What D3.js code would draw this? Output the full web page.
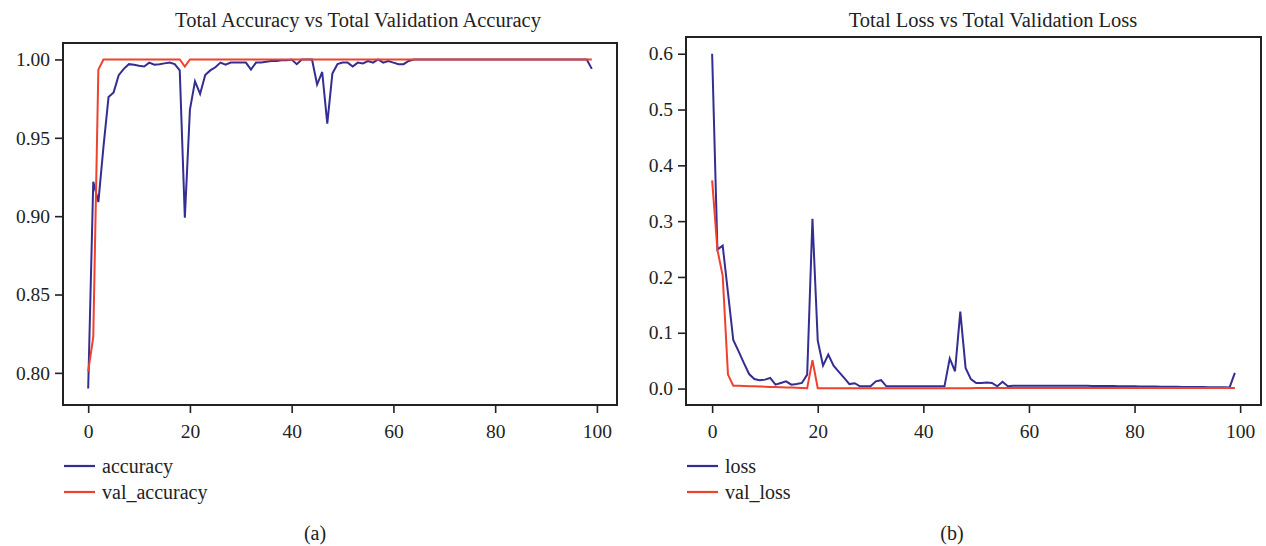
<!DOCTYPE html>
<html>
<head>
  <meta charset="utf-8">
  <title>Accuracy and Loss</title>
  <script src="https://d3js.org/d3.v7.min.js"></script>
  <style>
    body { margin: 0; background: #fff; }
    text { font-family: "Liberation Serif", "Times New Roman", serif; fill: #222; }
  </style>
</head>
<body>
  <div id="chart"></div>

  <script>
    // values, epoch 0..99
    var accuracy = [
      0.790, 0.922, 0.909, 0.944, 0.976, 0.979, 0.990, 0.994, 0.997, 0.9966,
      0.996, 0.9955, 0.998, 0.9966, 0.997, 0.9975, 0.998, 0.997, 0.993, 0.899,
      0.968, 0.986, 0.978, 0.990, 0.993, 0.995, 0.998, 0.9966, 0.998, 0.998,
      0.998, 0.998, 0.9936, 0.998, 0.998, 0.9985, 0.999, 0.999, 0.9995, 0.9995,
      1.000, 0.997, 1.000, 1.000, 1.000, 0.984, 0.992, 0.959, 0.991, 0.997,
      0.998, 0.998, 0.9955, 0.998, 0.9975, 0.999, 0.998, 1.000, 0.998, 0.999,
      0.998, 0.997, 0.997, 0.999, 1.000, 1.000, 1.000, 1.000, 1.000, 1.000,
      1.000, 1.000, 1.000, 1.000, 1.000, 1.000, 1.000, 1.000, 1.000, 1.000,
      1.000, 1.000, 1.000, 1.000, 1.000, 1.000, 1.000, 1.000, 1.000, 1.000,
      1.000, 1.000, 1.000, 1.000, 1.000, 1.000, 1.000, 1.000, 1.000, 0.994
    ];
    var valAccuracy = [
      0.801, 0.823, 0.9935, 1.000, 1.000, 1.000, 1.000, 1.000, 1.000, 1.000,
      1.000, 1.000, 1.000, 1.000, 1.000, 1.000, 1.000, 1.000, 1.000, 0.9955,
      1.000, 1.000, 1.000, 1.000, 1.000, 1.000, 1.000, 1.000, 1.000, 1.000,
      1.000, 1.000, 1.000, 1.000, 1.000, 1.000, 1.000, 1.000, 1.000, 1.000,
      1.000, 1.000, 1.000, 1.000, 1.000, 1.000, 1.000, 1.000, 1.000, 1.000,
      1.000, 1.000, 1.000, 1.000, 1.000, 1.000, 1.000, 1.000, 1.000, 1.000,
      1.000, 1.000, 1.000, 1.000, 1.000, 1.000, 1.000, 1.000, 1.000, 1.000,
      1.000, 1.000, 1.000, 1.000, 1.000, 1.000, 1.000, 1.000, 1.000, 1.000,
      1.000, 1.000, 1.000, 1.000, 1.000, 1.000, 1.000, 1.000, 1.000, 1.000,
      1.000, 1.000, 1.000, 1.000, 1.000, 1.000, 1.000, 1.000, 1.000, 1.000
    ];
    var loss = [
      0.600, 0.249, 0.256, 0.172, 0.087, 0.067, 0.046, 0.026, 0.017, 0.015,
      0.016, 0.019, 0.007, 0.010, 0.013, 0.007, 0.008, 0.010, 0.025, 0.304,
      0.086, 0.041, 0.061, 0.041, 0.030, 0.019, 0.008, 0.0095, 0.004, 0.004,
      0.004, 0.013, 0.015, 0.004, 0.004, 0.004, 0.004, 0.004, 0.004, 0.004,
      0.004, 0.004, 0.004, 0.004, 0.004, 0.054, 0.031, 0.138, 0.037, 0.017,
      0.010, 0.010, 0.011, 0.010, 0.004, 0.012, 0.004, 0.005, 0.005, 0.005,
      0.005, 0.005, 0.005, 0.005, 0.005, 0.005, 0.005, 0.005, 0.005, 0.005,
      0.0048, 0.0048, 0.0046, 0.0046, 0.0045, 0.0044, 0.0044, 0.0042, 0.0042, 0.004,
      0.004, 0.0038, 0.0038, 0.0036, 0.0035, 0.0034, 0.0033, 0.0032, 0.0031, 0.003,
      0.003, 0.0028, 0.0027, 0.0026, 0.0025, 0.0024, 0.0023, 0.0022, 0.002, 0.028
    ];
    var valLoss = [
      0.373, 0.249, 0.202, 0.025, 0.005, 0.0048, 0.0045, 0.0042, 0.004, 0.0037,
      0.0034, 0.003, 0.0027, 0.0024, 0.002, 0.0017, 0.0013, 0.001, 0.0005, 0.051,
      0.0005, 0.0005, 0.0005, 0.0005, 0.0005, 0.0005, 0.0005, 0.0005, 0.0005, 0.0005,
      0.0006, 0.0006, 0.0006, 0.0006, 0.0006, 0.0006, 0.0006, 0.0006, 0.0006, 0.0006,
      0.0007, 0.0007, 0.0007, 0.0007, 0.0007, 0.0007, 0.0007, 0.0007, 0.0007, 0.0007,
      0.0008, 0.0008, 0.0008, 0.0008, 0.0008, 0.0008, 0.0008, 0.0008, 0.0008, 0.0008,
      0.0009, 0.0009, 0.0009, 0.0009, 0.0009, 0.0009, 0.0009, 0.0009, 0.0009, 0.0009,
      0.001, 0.001, 0.001, 0.001, 0.001, 0.001, 0.001, 0.001, 0.001, 0.001,
      0.0011, 0.0011, 0.0011, 0.0011, 0.0011, 0.0011, 0.0011, 0.0011, 0.0011, 0.0011,
      0.0012, 0.0012, 0.0012, 0.0012, 0.0012, 0.0012, 0.0012, 0.0012, 0.0012, 0.0012
    ];
    var epochTicks = [0, 20, 40, 60, 80, 100];
    var accTicks = [0.80, 0.85, 0.90, 0.95, 1.00];
    var lossTicks = [0, 0.1, 0.2, 0.3, 0.4, 0.5, 0.6];

    var blue = "#342e92", red = "#f0412d";

    var svg = d3.select("#chart").append("svg")
      .attr("width", 1266).attr("height", 546);

    // matplotlib style 5% margins
    function padded(lo, hi) {
      var m = (hi - lo) * 0.05;
      return [lo - m, hi + m];
    }

    function panel(p) {
      var epochs = p.train.map((d, i) => i);
      var x = d3.scaleLinear().domain(padded(0, epochs.length - 1)).range([p.left, p.right]);
      var all = p.train.concat(p.val);
      var y = d3.scaleLinear().domain(padded(d3.min(all), d3.max(all))).range([p.bottom, p.top]);

      var g = svg.append("g");

      var line = d3.line().x((d, i) => x(i)).y(d => y(d));
      g.append("path").datum(p.train).attr("d", line)
        .attr("fill", "none").attr("stroke", blue).attr("stroke-width", 2);
      g.append("path").datum(p.val).attr("d", line)
        .attr("fill", "none").attr("stroke", red).attr("stroke-width", 2);

      g.append("rect")
        .attr("x", p.left).attr("y", p.top)
        .attr("width", p.right - p.left).attr("height", p.bottom - p.top)
        .attr("fill", "none").attr("stroke", "#222").attr("stroke-width", 2);

      var xAxis = g.append("g").attr("transform", "translate(0," + (p.bottom + 1) + ")")
        .call(d3.axisBottom(x).tickValues(epochTicks).tickSize(7).tickPadding(11).tickFormat(d3.format("d")));
      var yAxis = g.append("g").attr("transform", "translate(" + (p.left - 1) + ",0)")
        .call(d3.axisLeft(y).tickValues(p.ticks).tickSize(7).tickPadding(5).tickFormat(d3.format(p.fmt)));
      [xAxis, yAxis].forEach(a => {
        a.select(".domain").remove();
        a.selectAll(".tick line").attr("stroke", "#222").attr("stroke-width", 1.6);
        a.selectAll(".tick text").style("font-size", "19.5px").attr("fill", "#222");
      });

      g.append("text")
        .attr("x", p.titleX).attr("y", 27)
        .attr("text-anchor", "middle").style("font-size", "20.5px")
        .text(p.title);

      var items = [{ name: p.names[0], color: blue }, { name: p.names[1], color: red }];
      var leg = g.selectAll(".leg").data(items).enter().append("g")
        .attr("transform", (d, i) => "translate(" + (p.left + 1) + "," + (466 + i * 26) + ")");
      leg.append("line").attr("x1", 0).attr("x2", 31).attr("y1", 0).attr("y2", 0)
        .attr("stroke", d => d.color).attr("stroke-width", 2.2);
      leg.append("text").attr("x", 38).attr("y", 0).attr("dy", "0.33em")
        .style("font-size", "20px").text(d => d.name);

      g.append("text")
        .attr("x", p.capX).attr("y", 533).attr("dy", "0.33em")
        .attr("text-anchor", "middle").style("font-size", "20px")
        .text(p.caption);
    }

    panel({
      train: accuracy, val: valAccuracy, ticks: accTicks, fmt: ".2f",
      left: 63, right: 617, top: 43, bottom: 405,
      title: "Total Accuracy vs Total Validation Accuracy", titleX: 358,
      names: ["accuracy", "val_accuracy"], caption: "(a)", capX: 315
    });
    panel({
      train: loss, val: valLoss, ticks: lossTicks, fmt: ".1f",
      left: 686, right: 1261, top: 37, bottom: 405,
      title: "Total Loss vs Total Validation Loss", titleX: 993,
      names: ["loss", "val_loss"], caption: "(b)", capX: 952
    });
  </script>
</body>
</html>
